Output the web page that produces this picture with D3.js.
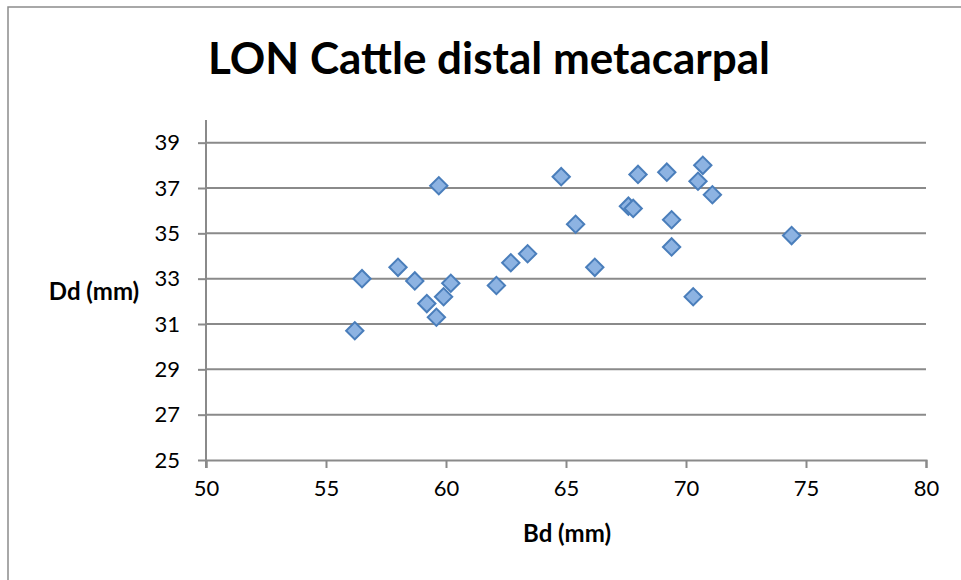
<!DOCTYPE html>
<html>
<head>
<meta charset="utf-8">
<script src="https://cdn.jsdelivr.net/npm/d3@7"></script>
<style>
  body { margin: 0; background: #fff; }
  text { font-family: Lato, "Open Sans", sans-serif; fill: #000; }
</style>
</head>
<body>
<div id="chart"></div>
<script>
// data: Bd (mm) and Dd (mm)
const bd = [56.2, 56.5, 58.0, 58.7, 59.2, 59.6, 59.9, 60.2, 59.7, 62.1, 62.7, 63.4,
  64.8, 65.4, 66.2, 67.6, 67.8, 68.0, 69.2, 69.4, 69.4, 70.3, 70.5, 70.7, 71.1, 74.4];
const dd = [30.7, 33.0, 33.5, 32.9, 31.9, 31.3, 32.2, 32.8, 37.1, 32.7, 33.7, 34.1,
  37.5, 35.4, 33.5, 36.2, 36.1, 37.6, 37.7, 35.6, 34.4, 32.2, 37.3, 38.0, 36.7, 34.9];
const xTicks = [50, 55, 60, 65, 70, 75, 80];
const yTicks = [25, 27, 29, 31, 33, 35, 37, 39];

const width = 961, height = 580;
const margin = { top: 120, bottom: 120, left: 206, right: 35 };

const svg = d3.select("#chart").append("svg")
  .attr("width", width)
  .attr("height", height);

// chart frame
svg.append("rect")
  .attr("x", 8).attr("y", 7)
  .attr("width", width + 20).attr("height", height + 20)
  .attr("fill", "#fff")
  .attr("stroke", "#8c8c8c")
  .attr("stroke-width", 1.5);

const x = d3.scaleLinear().domain([50, 80]).range([margin.left, width - margin.right]);
const y = d3.scaleLinear().domain([25, 40]).range([height - margin.bottom, margin.top]);

// gridlines
svg.append("g")
  .selectAll("line")
  .data(yTicks.slice(1))
  .join("line")
  .attr("x1", x(50)).attr("x2", x(80))
  .attr("y1", d => y(d)).attr("y2", d => y(d))
  .attr("stroke", "#8a8a8a")
  .attr("stroke-width", 2);

// x axis
const xAxis = svg.append("g")
  .attr("transform", `translate(0,${y(25)})`)
  .call(d3.axisBottom(x).tickValues(xTicks).tickSize(8).tickPadding(12).tickFormat(d3.format("d")));

// y axis
const yAxis = svg.append("g")
  .attr("transform", `translate(${x(50)},0)`)
  .call(d3.axisLeft(y).tickValues(yTicks).tickSize(8).tickPadding(18).tickFormat(d3.format("d")));

[xAxis, yAxis].forEach(g => {
  g.select(".domain").attr("stroke", "#8a8a8a").attr("stroke-width", 2);
  g.selectAll(".tick line").attr("stroke", "#8a8a8a").attr("stroke-width", 2);
  g.selectAll(".tick text").style("font-size", "22px").attr("fill", "#000");
});
// y axis line runs down past the x axis like the tick marks
yAxis.select(".domain").attr("d", `M0,${y(40)}V${y(25) + 8}`);

// points
svg.append("g")
  .selectAll("path")
  .data(bd.map((v, i) => [v, dd[i]]))
  .join("path")
  .attr("d", d3.symbol(d3.symbolSquare, 150))
  .attr("transform", d => `translate(${x(d[0])},${y(d[1])}) rotate(45)`)
  .attr("fill", "#8db3e2")
  .attr("stroke", "#4a7ebb")
  .attr("stroke-width", 2);

// title
svg.append("text")
  .attr("x", 489).attr("y", 74)
  .attr("text-anchor", "middle")
  .style("font-size", "44px")
  .style("font-weight", "bold")
  .text("LON Cattle distal metacarpal");

svg.append("text")
  .attr("x", 567).attr("y", 542)
  .attr("text-anchor", "middle")
  .style("font-size", "24px")
  .style("font-weight", "bold")
  .text("Bd (mm)");

svg.append("text")
  .attr("x", 94).attr("y", 300)
  .attr("text-anchor", "middle")
  .style("font-size", "24px")
  .style("font-weight", "bold")
  .text("Dd (mm)");
</script>
</body>
</html>
